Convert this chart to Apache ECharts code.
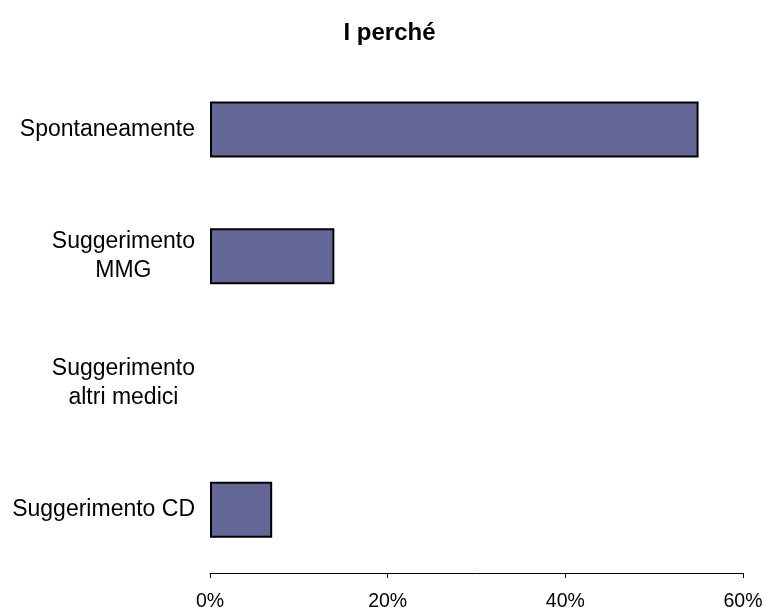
<!DOCTYPE html>
<html>
<head>
<meta charset="utf-8">
<script src="https://cdn.jsdelivr.net/npm/echarts@6/dist/echarts.min.js"></script>
<style>html,body{margin:0;padding:0;background:#fff}#c{width:779px;height:613px}</style>
</head>
<body>
<div id="c"></div>
<script>
var categories = ['Spontaneamente', 'Suggerimento\nMMG', 'Suggerimento\naltri medici', 'Suggerimento CD'];
var values = [55, 14, 0, 7];
var xTicks = [0, 20, 40, 60];

var chart = echarts.init(document.getElementById('c'));
chart.setOption({
  animation: false,
  backgroundColor: '#ffffff',
  title: {
    text: 'I perché',
    left: 'center',
    top: 16,
    textStyle: {fontFamily: 'Liberation Sans', fontSize: 24, fontWeight: 'bold', color: '#000'}
  },
  grid: {left: 210, right: 36, top: 66, bottom: 40, containLabel: false},
  xAxis: {
    type: 'value',
    min: xTicks[0],
    max: xTicks[xTicks.length - 1],
    interval: xTicks[1] - xTicks[0],
    axisLine: {show: true, lineStyle: {color: '#000', width: 1}},
    axisTick: {show: true, length: 5, lineStyle: {color: '#000'}},
    splitLine: {show: false},
    axisLabel: {
      formatter: '{value}%',
      margin: 19,
      fontFamily: 'Liberation Sans', fontSize: 19.5, color: '#000'
    }
  },
  yAxis: {
    type: 'category',
    inverse: true,
    data: categories,
    axisLine: {show: false},
    axisTick: {show: false},
    axisLabel: {
      margin: 15,
      fontFamily: 'Liberation Sans', fontSize: 23, color: '#000',
      lineHeight: 29,
      formatter: function (v) {
        return v.split('\n').map(function (s) { return '{c|' + s + '}'; }).join('\n');
      },
      rich: {c: {align: 'center', fontFamily: 'Liberation Sans', fontSize: 23, color: '#000', lineHeight: 29}}
    }
  },
  series: [{
    type: 'bar',
    data: values.map(function (v) {
      return v === 0 ? {value: v, itemStyle: {borderWidth: 0}} : v;
    }),
    barWidth: 56,
    itemStyle: {color: '#646696', borderColor: '#000', borderWidth: 2}
  }]
});
</script>
</body>
</html>
